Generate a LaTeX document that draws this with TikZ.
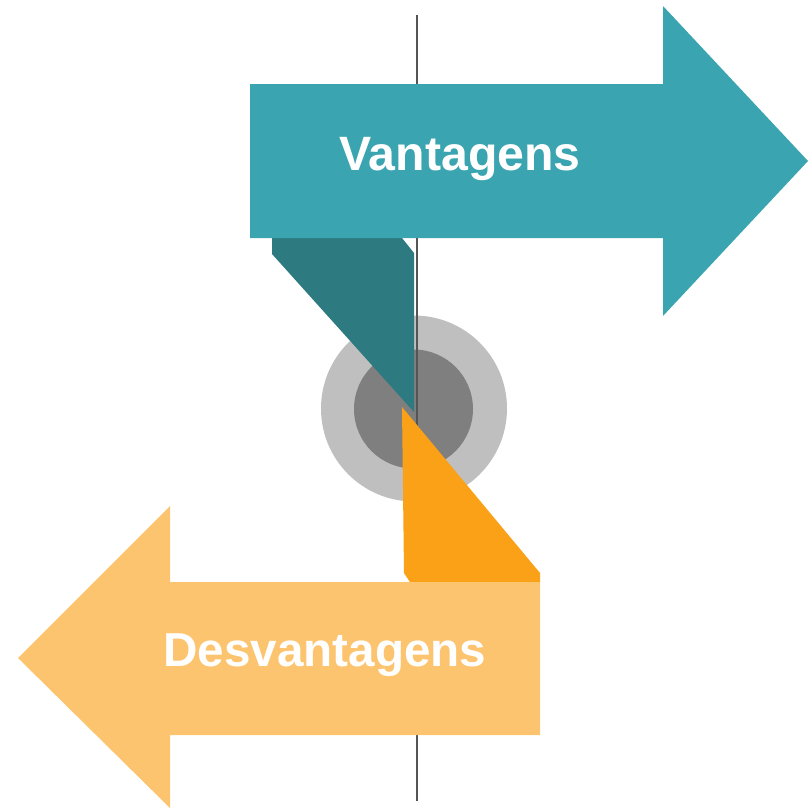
\documentclass[tikz,border=0pt]{standalone}
\usepackage{fontspec}
\setmainfont{Liberation Sans}
\definecolor{teal1}{HTML}{3AA5B0}
\definecolor{teal2}{HTML}{2D7A80}
\definecolor{orange1}{HTML}{FAA118}
\definecolor{orange2}{HTML}{FDC470}
\definecolor{grayout}{HTML}{BFBFBF}
\definecolor{grayin}{HTML}{7F7F7F}
\definecolor{linegray}{HTML}{555555}
\tikzset{
  lbl/.style={text=white,font=\bfseries\fontsize{48.2}{50}\selectfont,inner sep=0pt,anchor=base},
  shp/.style={draw=none}
}
\begin{document}
\begin{tikzpicture}[x=1pt,y=-1pt]
\useasboundingbox (0,0) rectangle (808,809);
% circles
\fill[grayout] (414,408.5) circle (93);
\fill[grayin] (413.5,409) circle (59.5);
% dark teal fold
\fill[teal2] (272,238) -- (402,238) -- (414,253) -- (414,412) -- (272,254) -- cycle;
% vertical line
\coordinate (ltop) at (416.5,15);
\coordinate (lbot) at (416.5,801);
\draw[linegray,line width=2pt] (ltop) -- (lbot);
% teal arrow
\fill[teal1] (250,84) -- (663,84) -- (663,6) -- (808,161) -- (663,316) -- (663,238) -- (250,238) -- cycle;
\node[lbl] (adv) at (460,170) {Vantagens};
% orange fold
\fill[orange1] (402,407) -- (540,573) -- (540,582) -- (410,582) -- (404,573) -- cycle;
% light orange arrow
\fill[orange2] (540,582) -- (170,582) -- (170,506) -- (18,658) -- (170,808) -- (170,735) -- (540,735) -- cycle;
\node[lbl,font=\bfseries\fontsize{47.6}{50}\selectfont] (dis) at (325,666) {Desvantagens};
\end{tikzpicture}
\end{document}
